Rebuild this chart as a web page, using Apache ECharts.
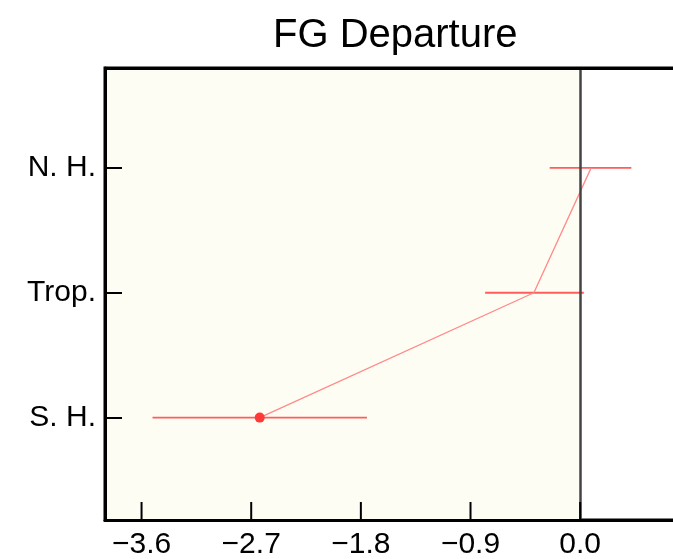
<!DOCTYPE html>
<html>
<head>
<meta charset="utf-8">
<script src="https://cdn.jsdelivr.net/npm/echarts@6/dist/echarts.min.js"></script>
<style>
    html, body { margin: 0; padding: 0; background: #fff; overflow: hidden; }
    #main { width: 720px; height: 559px; }
</style>
</head>
<body>
<div id="main"></div>
<script>
// 区域 (top to bottom)
var regions = ['N. H.', 'Trop.', 'S. H.'];
// FG departure mean and error bar ends, same order as regions
var meanVals = [0.09, -0.38, -2.63];
var lowVals = [-0.25, -0.78, -3.51];
var highVals = [0.42, 0.03, -1.75];
var xTicks = [-3.6, -2.7, -1.8, -0.9, 0.0];

(function () {
    var font = '"Liberation Sans", Arial, sans-serif';
    var n = regions.length;
    var yOf = function (i) { return n - 1 - i; };
    var yMin = -0.82, yMax = 2.8;

    var linePts = [], barPts = [];
    for (var i = 0; i < n; i++) {
        var item = { value: [meanVals[i], yOf(i)] };
        // only the S. H. end has a marker
        if (i === n - 1) {
            item.symbol = 'circle';
            item.symbolSize = 10;
        }
        linePts.push(item);
        barPts.push([lowVals[i], highVals[i], yOf(i)]);
    }
    var yTicks = regions.map(function (r, i) { return yOf(i); });
    var tickPts = xTicks.map(function (t) { return [t, yMin]; });

    var myChart = echarts.init(document.getElementById('main'));
    var option = {
        animation: false,
        title: {
            text: 'FG Departure',
            left: 268,
            top: 11,
            textStyle: { fontFamily: font, fontSize: 40, fontWeight: 'normal', color: '#000' }
        },
        grid: {
            left: 105, top: 68, width: 597, height: 452,
            outerBoundsMode: 'none',
            show: true, borderColor: '#000', borderWidth: 3, backgroundColor: '#fff'
        },
        xAxis: {
            type: 'value', min: -3.9, max: 1.0, z: 10,
            axisLine: { show: true, onZero: false, lineStyle: { color: '#000', width: 3 } },
            axisTick: { show: false },
            axisLabel: {
                customValues: xTicks, margin: 10,
                fontFamily: font, fontSize: 30, color: '#000',
                formatter: function (v) { return v.toFixed(1).replace('-', '\u2212'); }
            },
            splitLine: { show: false }
        },
        yAxis: {
            type: 'value', min: yMin, max: yMax, z: 10,
            axisLine: { show: true, onZero: false, lineStyle: { color: '#000', width: 3 } },
            axisTick: { show: true, inside: true, length: 17, customValues: yTicks, lineStyle: { color: '#000', width: 2 } },
            axisLabel: {
                customValues: yTicks, margin: 9,
                fontFamily: font, fontSize: 30, color: '#000',
                formatter: function (v) { return regions[n - 1 - Math.round(v)]; }
            },
            splitLine: { show: false }
        },
        series: [{
            // shading left of zero
            type: 'line', data: [], z: 1, silent: true,
            markArea: {
                silent: true,
                itemStyle: { color: '#fefdf3' },
                data: [[{ xAxis: -3.9 }, { xAxis: 0 }]]
            }
        }, {
            // zero line + top frame
            type: 'line', data: [], z: 5, silent: true,
            markLine: {
                silent: true, symbol: 'none', label: { show: false },
                data: [
                    { xAxis: 0, lineStyle: { color: '#444', width: 2.5, type: 'solid' } },
                    { yAxis: yMax, lineStyle: { color: '#000', width: 3, type: 'solid' } }
                ]
            }
        }, {
            // bottom ticks pointing inward
            type: 'custom', z: 20, silent: true, clip: false,
            encode: { x: 0, y: 1 },
            data: tickPts,
            renderItem: function (params, api) {
                var p = api.coord([api.value(0), api.value(1)]);
                return {
                    type: 'line',
                    shape: { x1: p[0], y1: p[1], x2: p[0], y2: p[1] - 18 },
                    style: { stroke: '#000', lineWidth: 2 }
                };
            }
        }, {
            type: 'custom', z: 3, silent: true,
            encode: { x: [0, 1], y: 2 },
            data: barPts,
            renderItem: function (params, api) {
                var p1 = api.coord([api.value(0), api.value(2)]);
                var p2 = api.coord([api.value(1), api.value(2)]);
                return {
                    type: 'line',
                    shape: { x1: p1[0], y1: p1[1], x2: p2[0], y2: p2[1] },
                    style: { stroke: '#ff5c5c', lineWidth: 1.8 }
                };
            }
        }, {
            type: 'line', z: 4, silent: true,
            data: linePts,
            symbol: 'none',
            lineStyle: { color: '#ff8a8a', width: 1.3 },
            itemStyle: { color: '#ff3838' }
        }]
    };
    myChart.setOption(option);
})();
</script>
</body>
</html>
